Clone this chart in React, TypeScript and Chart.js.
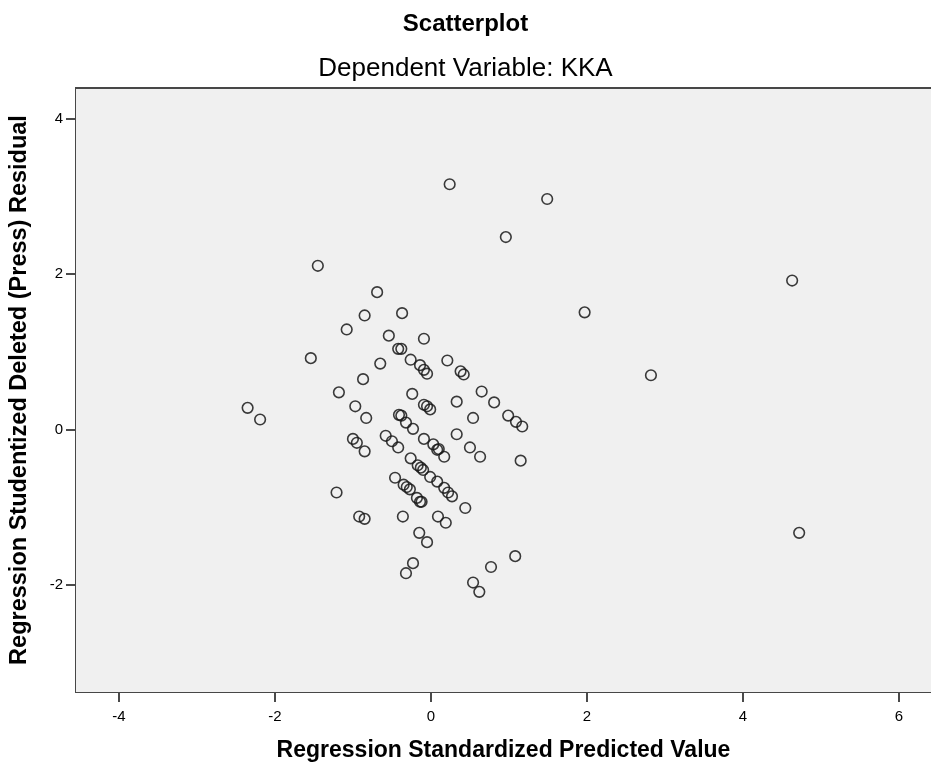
import React, { useEffect, useRef } from "react";
import { Chart, registerables } from "chart.js";

Chart.register(...registerables);

const chartTitle = "Scatterplot";
const chartSubtitle = "Dependent Variable: KKA";
const xAxisTitle = "Regression Standardized Predicted Value";
const yAxisTitle = "Regression Studentized Deleted (Press) Residual";

const xTicks = [-4, -2, 0, 2, 4, 6];
const yTicks = [-2, 0, 2, 4];

const predictedValues = [
  0.24, 1.49, 0.96, -1.45, 4.63, -0.69, 1.97, -0.37, -0.85, -1.08,
  -0.54, -0.09, -0.42, -0.38, -1.54, -0.26, -0.65, 0.21, -0.14, -0.09,
  -0.05, 0.38, 0.42, 2.82, -0.87, -1.18, -0.24, 0.65, 0.81, 0.33,
  -2.35, -0.97, -0.09, -0.05, -0.01, 0.99, 0.54, -0.83, 1.09, 1.17,
  -2.19, -0.41, -0.38, -0.32, -0.23, 0.33, -1.0, -0.95, -0.85, -0.58,
  -0.5, -0.42, -0.09, 0.03, 0.08, 0.17, 0.1, 0.5, 0.63, 1.15,
  -0.26, -0.17, -0.13, -0.1, -0.01, 0.08, 0.17, 0.22, 0.27, -0.46,
  -0.35, -0.31, -0.27, -0.18, -0.14, -0.12, 0.44, -1.21, -0.92, -0.85,
  -0.36, 0.09, 0.19, -0.15, -0.05, 1.08, 0.77, -0.23, -0.32, 0.54,
  0.62, 4.72,
];

const deletedResiduals = [
  3.16, 2.97, 2.48, 2.11, 1.92, 1.77, 1.51, 1.5, 1.47, 1.29,
  1.21, 1.17, 1.04, 1.04, 0.92, 0.9, 0.85, 0.89, 0.83, 0.77,
  0.72, 0.75, 0.71, 0.7, 0.65, 0.48, 0.46, 0.49, 0.35, 0.36,
  0.28, 0.3, 0.32, 0.3, 0.26, 0.18, 0.15, 0.15, 0.1, 0.04,
  0.13, 0.19, 0.18, 0.09, 0.01, -0.06, -0.12, -0.17, -0.28, -0.08,
  -0.15, -0.23, -0.12, -0.19, -0.26, -0.35, -0.25, -0.23, -0.35, -0.4,
  -0.37, -0.46, -0.49, -0.52, -0.61, -0.67, -0.75, -0.81, -0.86, -0.62,
  -0.71, -0.74, -0.77, -0.88, -0.93, -0.93, -1.01, -0.81, -1.12, -1.15,
  -1.12, -1.12, -1.2, -1.33, -1.45, -1.63, -1.77, -1.72, -1.85, -1.97,
  -2.09, -1.33,
];

const FONT = "'Liberation Sans', Arial, sans-serif";

const plotFrame = {
  id: "plotFrame",
  beforeDatasetsDraw(chart: any) {
    const { ctx, chartArea } = chart;
    ctx.save();
    ctx.fillStyle = "#f0f0f0";
    ctx.fillRect(chartArea.left, chartArea.top, chartArea.right - chartArea.left, chartArea.bottom - chartArea.top);
    ctx.restore();
  },
  afterDraw(chart: any) {
    const { ctx, chartArea } = chart;
    ctx.save();
    ctx.strokeStyle = "#474747";
    ctx.lineWidth = 2;
    ctx.beginPath();
    ctx.moveTo(chartArea.left - 1, chartArea.top);
    ctx.lineTo(chartArea.right, chartArea.top);
    ctx.stroke();
    ctx.restore();
  },
};

export default function App() {
  const canvasRef = useRef<HTMLCanvasElement | null>(null);

  useEffect(() => {
    document.body.style.margin = "0";
    const canvas = canvasRef.current;
    if (!canvas) return;
    const points = predictedValues.map((x, i) => ({ x, y: deletedResiduals[i] }));
    const chart = new Chart(canvas, {
      type: "scatter",
      data: {
        datasets: [
          {
            data: points,
            pointRadius: 5.3,
            pointHoverRadius: 5.3,
            pointBorderWidth: 1.6,
            pointBorderColor: "rgba(25,25,25,0.85)",
            pointBackgroundColor: "rgba(0,0,0,0)",
          },
        ],
      },
      options: {
        responsive: false,
        animation: false,
        events: [],
        layout: { padding: 0, autoPadding: false },
        plugins: {
          legend: { display: false },
          tooltip: { enabled: false },
          title: {
            display: true,
            text: chartTitle,
            color: "#000",
            font: { family: FONT, size: 24, weight: "bold" },
            padding: { top: 10, bottom: 14 },
          },
          subtitle: {
            display: true,
            text: chartSubtitle,
            color: "#000",
            font: { family: FONT, size: 26, weight: "normal" },
            padding: { top: 0, bottom: 4 },
          },
        },
        scales: {
          x: {
            type: "linear",
            min: -4.55,
            max: 6.41,
            afterBuildTicks: (scale: any) => {
              scale.ticks = xTicks.map((v) => ({ value: v }));
            },
            afterFit: (scale: any) => {
              scale.height = 74;
              scale.paddingLeft = 0;
              scale.paddingRight = 0;
            },
            ticks: {
              color: "#000",
              font: { family: FONT, size: 15 },
              padding: 6,
              maxRotation: 0,
              callback: (v: any) => String(v),
            },
            grid: { drawOnChartArea: false, drawTicks: true, tickLength: 10, color: "#4a4a4a", lineWidth: 2 },
            border: { display: true, color: "#474747", width: 2 },
            title: {
              display: true,
              text: xAxisTitle,
              color: "#000",
              font: { family: FONT, size: 23, weight: "bold" },
              padding: { top: 0, bottom: 2 },
            },
          },
          y: {
            type: "linear",
            min: -3.38,
            max: 4.4,
            afterBuildTicks: (scale: any) => {
              scale.ticks = yTicks.map((v) => ({ value: v }));
            },
            afterFit: (scale: any) => {
              scale.width = 76;
              scale.paddingTop = 0;
              scale.paddingBottom = 0;
            },
            ticks: {
              color: "#000",
              font: { family: FONT, size: 15 },
              padding: 3,
              callback: (v: any) => String(v),
            },
            grid: { drawOnChartArea: false, drawTicks: true, tickLength: 10, color: "#4a4a4a", lineWidth: 2 },
            border: { display: true, color: "#474747", width: 2 },
            title: {
              display: true,
              text: yAxisTitle,
              color: "#000",
              font: { family: FONT, size: 23.5, weight: "bold" },
              padding: { top: 5, bottom: 0 },
            },
          },
        },
      },
      plugins: [plotFrame],
    } as any);
    return () => chart.destroy();
  }, []);

  return <canvas ref={canvasRef} width={931} height={766} style={{ display: "block" }} />;
}
